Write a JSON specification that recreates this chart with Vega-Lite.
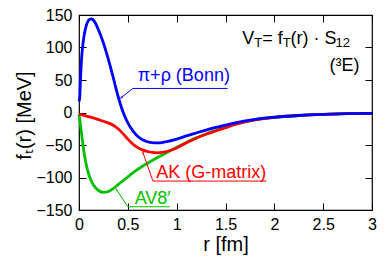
{
  "$schema": "https://vega.github.io/schema/vega-lite/v6.json",
  "width": 293,
  "height": 195,
  "autosize": "none",
  "padding": {"left": 79, "top": 15, "right": 20, "bottom": 51},
  "background": "white",
  "config": {
    "font": "Liberation Sans",
    "view": {"stroke": "black", "strokeWidth": 1.2},
    "axis": {
      "labelFont": "Liberation Sans",
      "titleFont": "Liberation Sans",
      "labelColor": "black",
      "titleColor": "black",
      "tickColor": "black",
      "tickWidth": 1,
      "tickSize": -7,
      "grid": false,
      "domain": false,
      "titleFontWeight": "normal",
      "labelFontSize": 16,
      "titleFontSize": 20
    }
  },
  "datasets": {
    "curves": [
      {"s": "B", "r": 0, "f": 17}, {"s": "B", "r": 0.007, "f": 22}, {"s": "B", "r": 0.015, "f": 50}, {"s": "B", "r": 0.025, "f": 80},
      {"s": "B", "r": 0.04, "f": 105}, {"s": "B", "r": 0.058, "f": 123}, {"s": "B", "r": 0.075, "f": 134}, {"s": "B", "r": 0.09, "f": 140},
      {"s": "B", "r": 0.11, "f": 143.5}, {"s": "B", "r": 0.127, "f": 144}, {"s": "B", "r": 0.145, "f": 142.5}, {"s": "B", "r": 0.17, "f": 137},
      {"s": "B", "r": 0.2, "f": 127}, {"s": "B", "r": 0.25, "f": 107}, {"s": "B", "r": 0.3, "f": 82}, {"s": "B", "r": 0.35, "f": 54},
      {"s": "B", "r": 0.4, "f": 25}, {"s": "B", "r": 0.45, "f": 1}, {"s": "B", "r": 0.5, "f": -16}, {"s": "B", "r": 0.55, "f": -28},
      {"s": "B", "r": 0.6, "f": -36.5}, {"s": "B", "r": 0.65, "f": -42}, {"s": "B", "r": 0.7, "f": -45}, {"s": "B", "r": 0.75, "f": -46.5},
      {"s": "B", "r": 0.8, "f": -46.8}, {"s": "B", "r": 0.85, "f": -46.2}, {"s": "B", "r": 0.9, "f": -44.8}, {"s": "B", "r": 1.0, "f": -41},
      {"s": "B", "r": 1.1, "f": -36}, {"s": "B", "r": 1.2, "f": -31.5}, {"s": "B", "r": 1.3, "f": -27}, {"s": "B", "r": 1.4, "f": -23},
      {"s": "B", "r": 1.5, "f": -19.5}, {"s": "B", "r": 1.6, "f": -16}, {"s": "B", "r": 1.7, "f": -13}, {"s": "B", "r": 1.8, "f": -10.5},
      {"s": "B", "r": 2.0, "f": -7.3}, {"s": "B", "r": 2.25, "f": -4.6}, {"s": "B", "r": 2.5, "f": -2.9}, {"s": "B", "r": 2.75, "f": -1.8},
      {"s": "B", "r": 3.0, "f": -1.2},
      {"s": "R", "r": 0, "f": -3}, {"s": "R", "r": 0.05, "f": -4.5}, {"s": "R", "r": 0.1, "f": -6.5}, {"s": "R", "r": 0.15, "f": -8.5},
      {"s": "R", "r": 0.2, "f": -11}, {"s": "R", "r": 0.25, "f": -13.5}, {"s": "R", "r": 0.3, "f": -16}, {"s": "R", "r": 0.35, "f": -19.5},
      {"s": "R", "r": 0.4, "f": -25}, {"s": "R", "r": 0.45, "f": -32.5}, {"s": "R", "r": 0.5, "f": -41}, {"s": "R", "r": 0.55, "f": -48.5},
      {"s": "R", "r": 0.6, "f": -54}, {"s": "R", "r": 0.65, "f": -57.5}, {"s": "R", "r": 0.7, "f": -60}, {"s": "R", "r": 0.75, "f": -61.5},
      {"s": "R", "r": 0.8, "f": -62}, {"s": "R", "r": 0.85, "f": -61.5}, {"s": "R", "r": 0.9, "f": -60}, {"s": "R", "r": 1.0, "f": -54.5},
      {"s": "R", "r": 1.1, "f": -46.5}, {"s": "R", "r": 1.2, "f": -39.5}, {"s": "R", "r": 1.3, "f": -33.5}, {"s": "R", "r": 1.4, "f": -28.5},
      {"s": "R", "r": 1.5, "f": -23.5}, {"s": "R", "r": 1.6, "f": -18.5}, {"s": "R", "r": 1.7, "f": -14.5}, {"s": "R", "r": 1.8, "f": -11.5},
      {"s": "R", "r": 2.0, "f": -7.5}, {"s": "R", "r": 2.25, "f": -4.7}, {"s": "R", "r": 2.5, "f": -2.9}, {"s": "R", "r": 2.75, "f": -1.8},
      {"s": "R", "r": 3.0, "f": -1.2},
      {"s": "G", "r": 0, "f": -3}, {"s": "G", "r": 0.01, "f": -13}, {"s": "G", "r": 0.025, "f": -31}, {"s": "G", "r": 0.05, "f": -60},
      {"s": "G", "r": 0.075, "f": -81}, {"s": "G", "r": 0.1, "f": -95}, {"s": "G", "r": 0.125, "f": -105}, {"s": "G", "r": 0.15, "f": -112},
      {"s": "G", "r": 0.2, "f": -120}, {"s": "G", "r": 0.25, "f": -123}, {"s": "G", "r": 0.3, "f": -121.5}, {"s": "G", "r": 0.35, "f": -117},
      {"s": "G", "r": 0.4, "f": -111}, {"s": "G", "r": 0.45, "f": -105}, {"s": "G", "r": 0.5, "f": -99}, {"s": "G", "r": 0.55, "f": -93},
      {"s": "G", "r": 0.6, "f": -87.5}, {"s": "G", "r": 0.7, "f": -78}, {"s": "G", "r": 0.8, "f": -69.5}, {"s": "G", "r": 0.9, "f": -61.5},
      {"s": "G", "r": 1.0, "f": -53.5}, {"s": "G", "r": 1.1, "f": -46}, {"s": "G", "r": 1.2, "f": -39}, {"s": "G", "r": 1.3, "f": -33},
      {"s": "G", "r": 1.4, "f": -27.5}, {"s": "G", "r": 1.5, "f": -22.5}, {"s": "G", "r": 1.6, "f": -18}, {"s": "G", "r": 1.7, "f": -14.2},
      {"s": "G", "r": 1.8, "f": -11.2}, {"s": "G", "r": 2.0, "f": -7.4}, {"s": "G", "r": 2.25, "f": -4.6}, {"s": "G", "r": 2.5, "f": -2.9},
      {"s": "G", "r": 2.75, "f": -1.8}, {"s": "G", "r": 3.0, "f": -1.2}
    ],
    "pointers": [
      {"s": "B", "r1": 0.55, "f1": 37, "r2": 1.522, "f2": 37},
      {"s": "B", "r1": 0.55, "f1": 37, "r2": 0.434, "f2": 23.1},
      {"s": "R", "r1": 0.757, "f1": -105.5, "r2": 1.918, "f2": -105.5},
      {"s": "R", "r1": 0.757, "f1": -105.5, "r2": 0.655, "f2": -61.7},
      {"s": "G", "r1": 0.5, "f1": -145, "r2": 0.928, "f2": -145},
      {"s": "G", "r1": 0.5, "f1": -145, "r2": 0.383, "f2": -118.3}
    ],
    "tips": [
      {"s": "B", "r": 0.434, "f": 23.1},
      {"s": "R", "r": 0.655, "f": -61.7},
      {"s": "G", "r": 0.383, "f": -118.3}
    ],
    "labels": [
      {"s": "B", "label": "π+ρ (Bonn)", "r": 0.601, "f": 48.8},
      {"s": "R", "label": "AK (G-matrix)", "r": 0.792, "f": -100.3},
      {"s": "G", "label": "AV8′", "r": 0.57, "f": -141.4}
    ],
    "formula": [
      {"r": 1.672, "f": 105.3}
    ],
    "state": [
      {"label": "(³E)", "r": 2.873, "f": 64.2}
    ]
  },
  "resolve": {"axis": {"x": "independent", "y": "independent"}},
  "layer": [
    {
      "mark": {"type": "rule", "color": "#222222", "strokeWidth": 1},
      "encoding": {
        "y": {"datum": 0, "type": "quantitative", "scale": {"domain": [-150, 150], "nice": false, "zero": false}, "axis": null}
      }
    },
    {
      "data": {"name": "curves"},
      "transform": [{"filter": "datum.s === 'G'"}],
      "mark": {"type": "line", "color": "#00c000", "strokeWidth": 2.8, "interpolate": "monotone"},
      "encoding": {
        "x": {"field": "r", "type": "quantitative", "scale": {"domain": [0, 3], "nice": false, "zero": false},
          "axis": {"orient": "bottom", "values": [0, 0.5, 1, 1.5, 2, 2.5, 3], "format": "~g", "labelPadding": 13, "labelFlush": false,
            "title": "r [fm]", "titleY": 40, "titleBaseline": "alphabetic"}},
        "y": {"field": "f", "type": "quantitative", "scale": {"domain": [-150, 150], "nice": false, "zero": false},
          "axis": {"orient": "left", "values": [-150, -100, -50, 0, 50, 100, 150], "labelPadding": 14, "labelFlush": false,
            "title": "fₜ(r) [MeV]", "titleX": -45, "titleY": 100, "titleBaseline": "bottom", "titleAngle": 270}}
      }
    },
    {
      "data": {"name": "curves"},
      "transform": [{"filter": "datum.s === 'R'"}],
      "mark": {"type": "line", "color": "#ff0000", "strokeWidth": 2.8, "interpolate": "monotone"},
      "encoding": {
        "x": {"field": "r", "type": "quantitative", "scale": {"domain": [0, 3], "nice": false, "zero": false},
          "axis": {"orient": "top", "values": [0, 0.5, 1, 1.5, 2, 2.5, 3], "labels": false, "title": null}},
        "y": {"field": "f", "type": "quantitative", "scale": {"domain": [-150, 150], "nice": false, "zero": false},
          "axis": {"orient": "right", "values": [-150, -100, -50, 0, 50, 100, 150], "labels": false, "title": null}}
      }
    },
    {
      "data": {"name": "curves"},
      "transform": [{"filter": "datum.s === 'B'"}],
      "mark": {"type": "line", "color": "#0000ff", "strokeWidth": 2.8, "interpolate": "monotone"},
      "encoding": {
        "x": {"field": "r", "type": "quantitative", "axis": null},
        "y": {"field": "f", "type": "quantitative", "axis": null}
      }
    },
    {
      "data": {"name": "pointers"},
      "mark": {"type": "rule", "strokeWidth": 1},
      "encoding": {
        "x": {"field": "r1", "type": "quantitative", "axis": null},
        "y": {"field": "f1", "type": "quantitative", "axis": null},
        "x2": {"field": "r2"},
        "y2": {"field": "f2"},
        "color": {"field": "s", "type": "nominal", "scale": {"domain": ["B", "R", "G"], "range": ["#0000ff", "#ff0000", "#00c000"]}, "legend": null}
      }
    },
    {
      "data": {"name": "tips"},
      "transform": [{"filter": "datum.s === 'B'"}],
      "mark": {"type": "point", "shape": "wedge", "filled": true, "size": 40, "angle": 231.5, "color": "#0000ff", "opacity": 1},
      "encoding": {
        "x": {"field": "r", "type": "quantitative", "axis": null},
        "y": {"field": "f", "type": "quantitative", "axis": null}
      }
    },
    {
      "data": {"name": "tips"},
      "transform": [{"filter": "datum.s === 'R'"}],
      "mark": {"type": "point", "shape": "wedge", "filled": true, "size": 40, "angle": 340.6, "color": "#ff0000", "opacity": 1},
      "encoding": {
        "x": {"field": "r", "type": "quantitative", "axis": null},
        "y": {"field": "f", "type": "quantitative", "axis": null}
      }
    },
    {
      "data": {"name": "tips"},
      "transform": [{"filter": "datum.s === 'G'"}],
      "mark": {"type": "point", "shape": "wedge", "filled": true, "size": 40, "angle": 326.1, "color": "#00c000", "opacity": 1},
      "encoding": {
        "x": {"field": "r", "type": "quantitative", "axis": null},
        "y": {"field": "f", "type": "quantitative", "axis": null}
      }
    },
    {
      "data": {"name": "labels"},
      "mark": {"type": "text", "align": "left", "baseline": "alphabetic", "fontSize": 18, "font": "Liberation Sans"},
      "encoding": {
        "x": {"field": "r", "type": "quantitative", "axis": null},
        "y": {"field": "f", "type": "quantitative", "axis": null},
        "text": {"field": "label"},
        "color": {"field": "s", "type": "nominal", "scale": {"domain": ["B", "R", "G"], "range": ["#0000ff", "#ff0000", "#00c000"]}, "legend": null}
      }
    },
    {
      "data": {"name": "formula"},
      "mark": {"type": "text", "align": "left", "baseline": "alphabetic", "fontSize": 18, "font": "Liberation Sans", "color": "black", "text": "V", "dx": 0},
      "encoding": {"x": {"field": "r", "type": "quantitative", "axis": null}, "y": {"field": "f", "type": "quantitative", "axis": null}}
    },
    {
      "data": {"name": "formula"},
      "mark": {"type": "text", "align": "left", "baseline": "alphabetic", "fontSize": 13, "font": "Liberation Sans", "color": "black", "text": "T", "dx": 12, "dy": 3},
      "encoding": {"x": {"field": "r", "type": "quantitative", "axis": null}, "y": {"field": "f", "type": "quantitative", "axis": null}}
    },
    {
      "data": {"name": "formula"},
      "mark": {"type": "text", "align": "left", "baseline": "alphabetic", "fontSize": 18, "font": "Liberation Sans", "color": "black", "text": "= f", "dx": 19.9},
      "encoding": {"x": {"field": "r", "type": "quantitative", "axis": null}, "y": {"field": "f", "type": "quantitative", "axis": null}}
    },
    {
      "data": {"name": "formula"},
      "mark": {"type": "text", "align": "left", "baseline": "alphabetic", "fontSize": 13, "font": "Liberation Sans", "color": "black", "text": "T", "dx": 40.4, "dy": 3},
      "encoding": {"x": {"field": "r", "type": "quantitative", "axis": null}, "y": {"field": "f", "type": "quantitative", "axis": null}}
    },
    {
      "data": {"name": "formula"},
      "mark": {"type": "text", "align": "left", "baseline": "alphabetic", "fontSize": 18, "font": "Liberation Sans", "color": "black", "text": "(r) · S", "dx": 48.3},
      "encoding": {"x": {"field": "r", "type": "quantitative", "axis": null}, "y": {"field": "f", "type": "quantitative", "axis": null}}
    },
    {
      "data": {"name": "formula"},
      "mark": {"type": "text", "align": "left", "baseline": "alphabetic", "fontSize": 13, "font": "Liberation Sans", "color": "black", "text": "12", "dx": 93.3, "dy": 3},
      "encoding": {"x": {"field": "r", "type": "quantitative", "axis": null}, "y": {"field": "f", "type": "quantitative", "axis": null}}
    },
    {
      "data": {"name": "state"},
      "mark": {"type": "text", "align": "right", "baseline": "alphabetic", "fontSize": 18, "font": "Liberation Sans", "color": "black"},
      "encoding": {
        "x": {"field": "r", "type": "quantitative", "axis": null},
        "y": {"field": "f", "type": "quantitative", "axis": null},
        "text": {"field": "label"}
      }
    }
  ]
}
